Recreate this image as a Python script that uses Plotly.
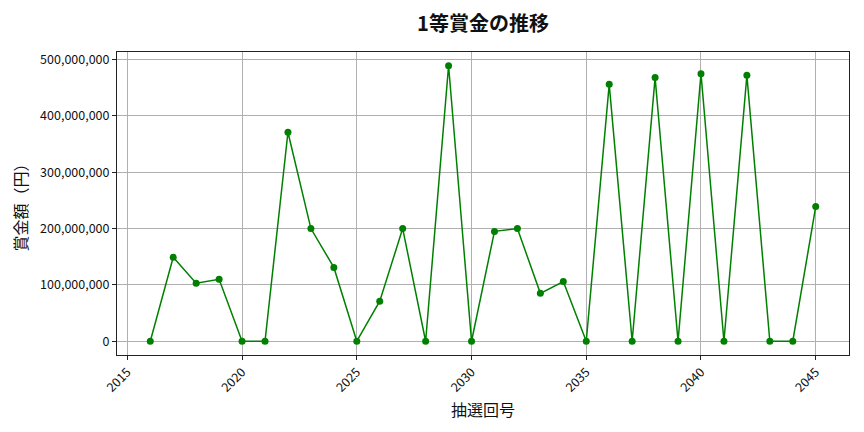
import plotly.graph_objects as go

draw_no = list(range(2016, 2046))
prize = [0, 149_000_000, 103_000_000, 110_000_000, 0, 0, 371_000_000, 200_000_000,
         131_000_000, 0, 71_000_000, 200_000_000, 0, 489_000_000, 0, 195_000_000,
         200_000_000, 85_000_000, 106_000_000, 0, 456_000_000, 0, 468_000_000, 0,
         475_000_000, 0, 472_000_000, 0, 0, 239_000_000]

title = "1等賞金の推移"
x_title = "抽選回号"
y_title = "賞金額（円）"

FONT = "Noto Sans CJK JP"

fig = go.Figure()
fig.add_trace(go.Scatter(
    x=draw_no, y=prize, mode="lines+markers",
    line=dict(color="#008000", width=1.5),
    marker=dict(color="#008000", size=7),
    showlegend=False,
))

axis_common = dict(
    showline=True, mirror=True, linecolor="#222222", linewidth=1,
    ticks="outside", ticklen=4, tickcolor="#222222",
    showgrid=True, gridcolor="#b0b0b0", gridwidth=1, zeroline=False,
    tickfont=dict(family=FONT, size=12.5, color="#111111"),
)

xmin, xmax = min(draw_no), max(draw_no)
xpad = (xmax - xmin) * 0.05
ymin, ymax = min(prize), max(prize)
ypad = (ymax - ymin) * 0.05

fig.update_xaxes(**axis_common, range=[xmin - xpad, xmax + xpad],
                 tickmode="linear", tick0=2015, dtick=5, tickangle=-45,
                 title=dict(text=x_title, font=dict(family=FONT, size=16, color="#111111"), standoff=10))
fig.update_yaxes(**axis_common, range=[ymin - ypad, ymax + ypad],
                 tickmode="linear", tick0=0, dtick=100_000_000, tickformat=",d",
                 title=dict(text=y_title, font=dict(family=FONT, size=16, color="#111111"), standoff=10))

fig.update_layout(
    width=864, height=432,
    margin=dict(l=109, r=23, t=44, b=85),
    paper_bgcolor="white", plot_bgcolor="white",
    title=dict(text="<b>" + title + "</b>", x=0.5, xanchor="center", xref="paper",
               y=1 - 16 / 432, yref="container", yanchor="middle",
               font=dict(family=FONT, size=20, color="#111111")),
    font=dict(family=FONT),
)

fig.write_html("out.html")
